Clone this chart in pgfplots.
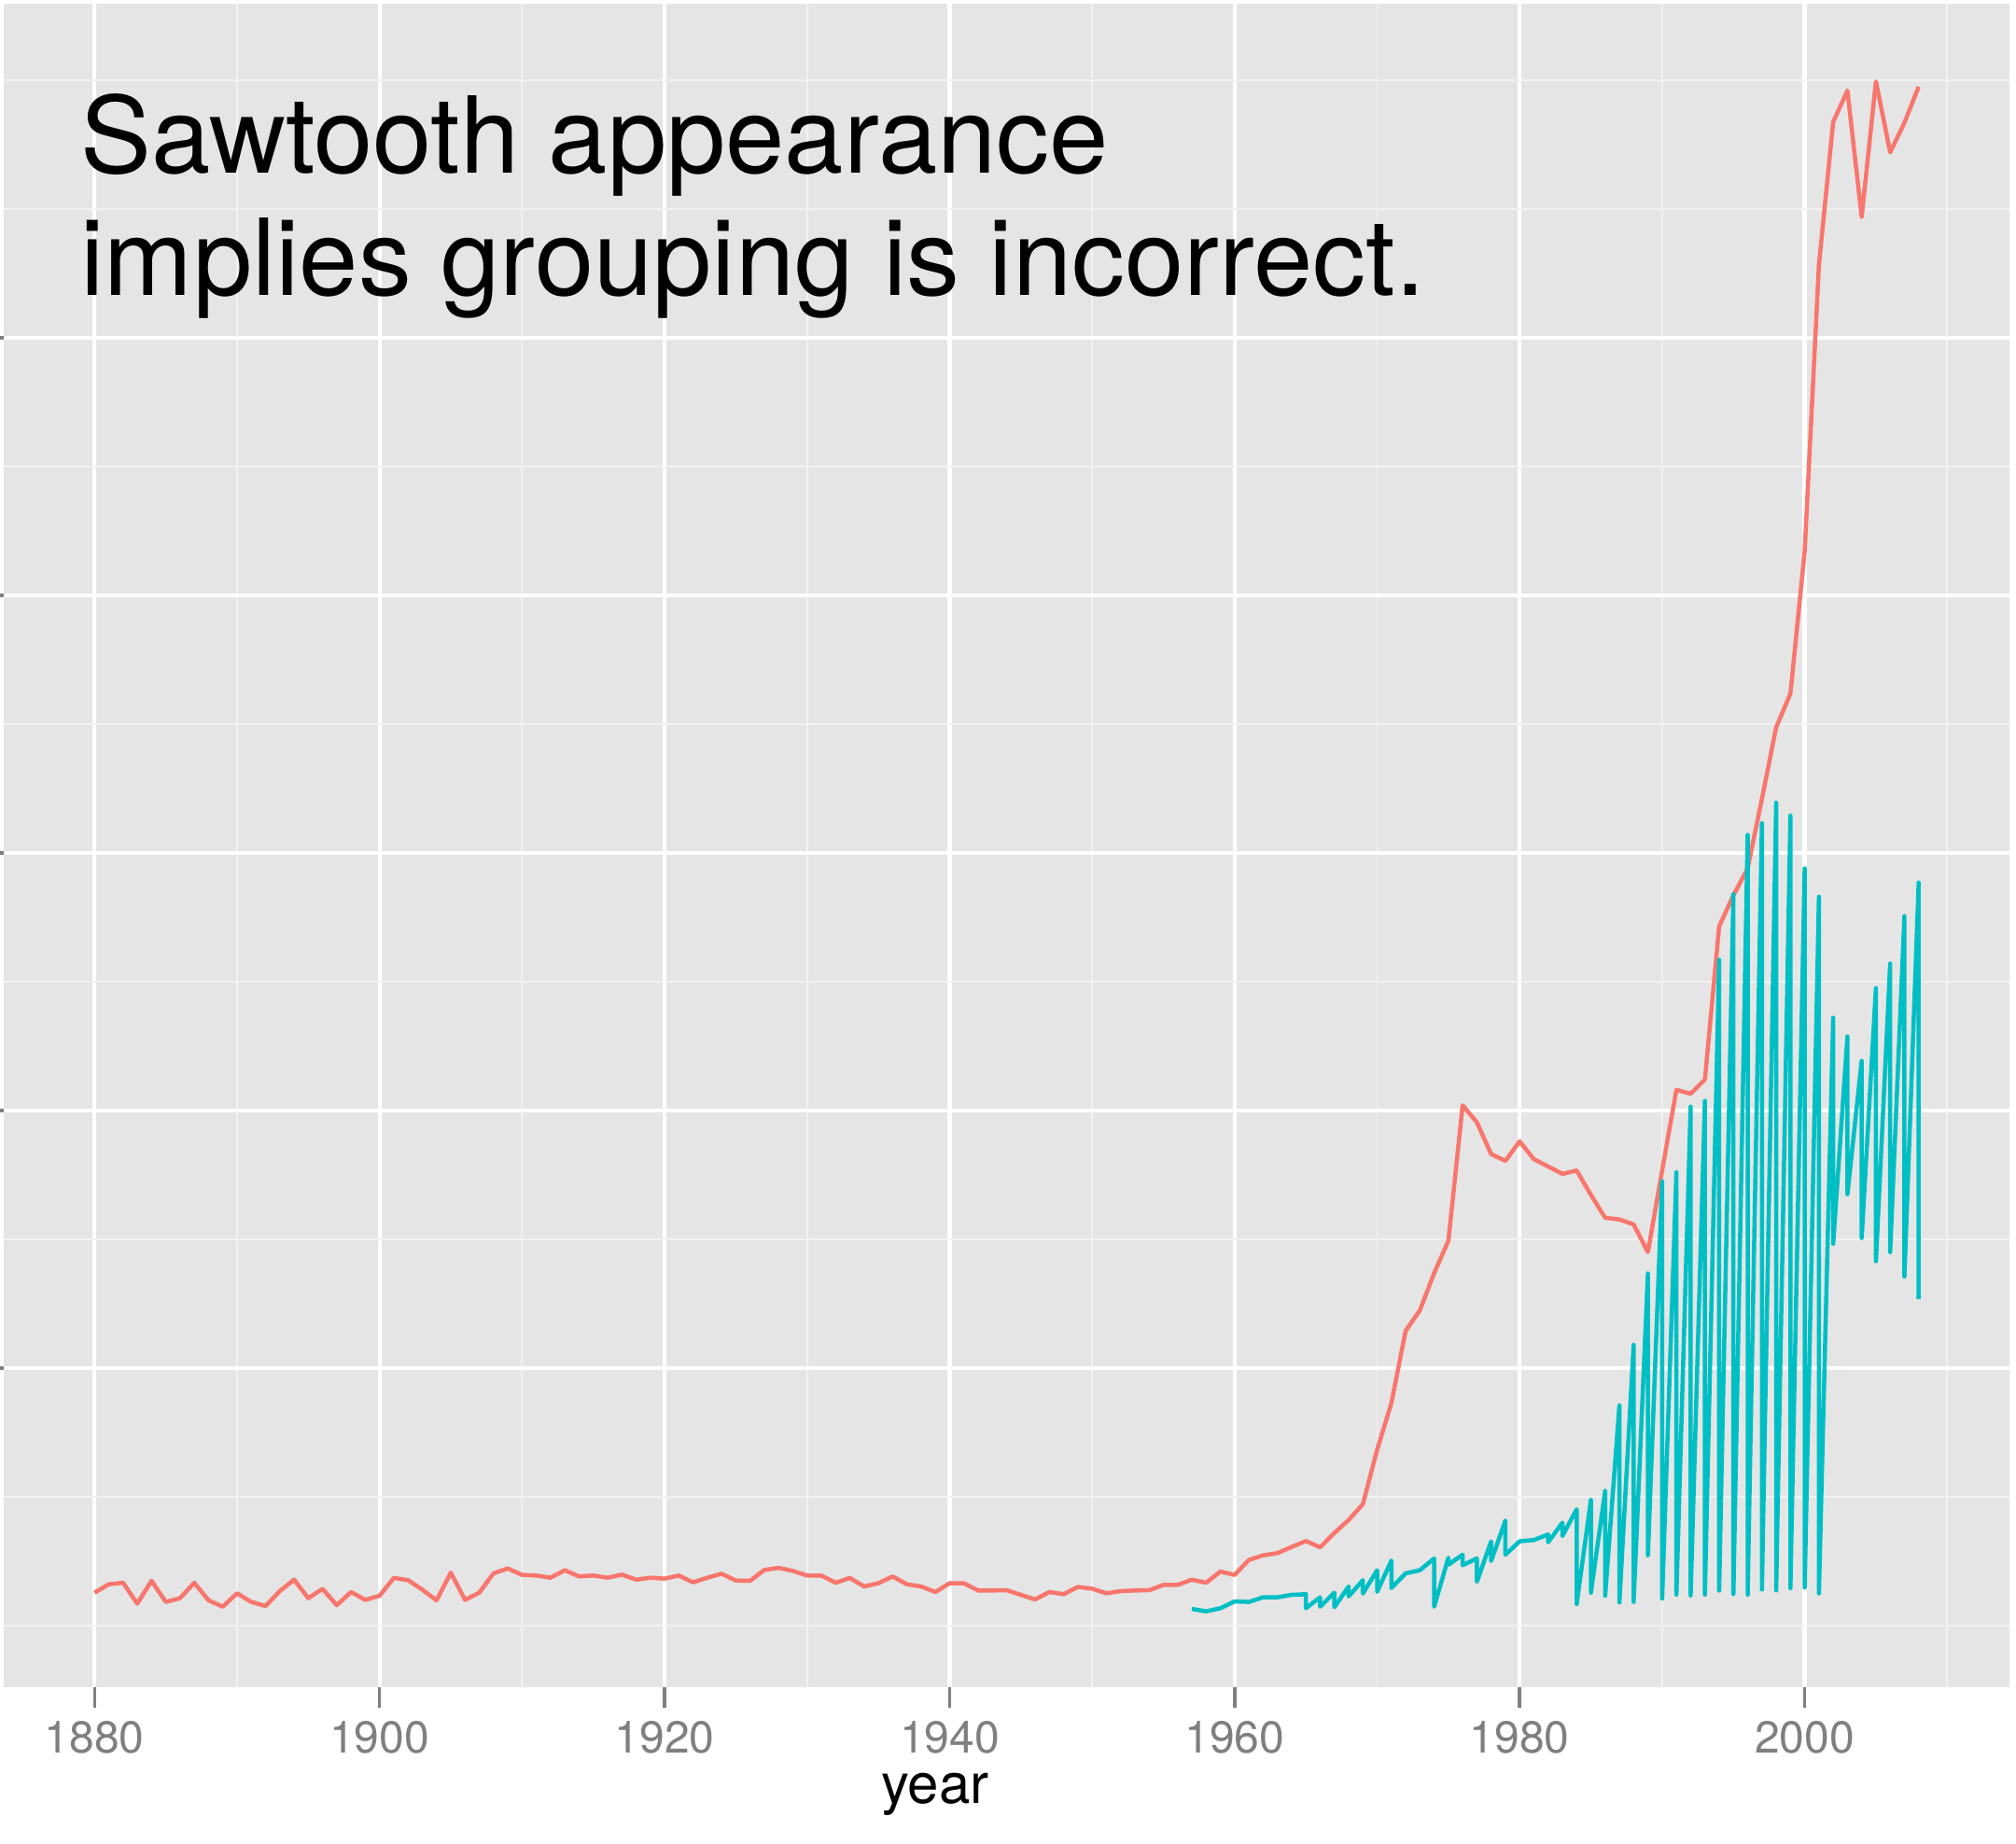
\documentclass[border=0pt]{standalone}
\usepackage{fontspec}
\setmainfont{TeX Gyre Heros}
\usepackage{pgfplots}
\pgfplotsset{compat=1.18}
\definecolor{ggred}{HTML}{F8766D}
\definecolor{ggteal}{HTML}{00BFC4}
\definecolor{ggbg}{HTML}{E5E5E5}
\definecolor{ggminor}{HTML}{F2F2F2}
\definecolor{ggtick}{HTML}{7F7F7F}

\pgfplotstableread{
year v
1880 0.256
1881 0.321
1882 0.333
1883 0.171
1884 0.348
1885 0.184
1886 0.213
1887 0.333
1888 0.196
1889 0.147
1890 0.251
1891 0.184
1892 0.152
1893 0.268
1894 0.357
1895 0.213
1896 0.285
1897 0.159
1898 0.261
1899 0.200
1900 0.232
1901 0.370
1902 0.353
1903 0.280
1904 0.196
1905 0.411
1906 0.200
1907 0.256
1908 0.406
1909 0.444
1910 0.394
1911 0.389
1912 0.372
1913 0.430
1914 0.382
1915 0.389
1916 0.372
1917 0.396
1918 0.357
1919 0.372
1920 0.365
1921 0.389
1922 0.336
1923 0.372
1924 0.403
1925 0.350
1926 0.348
1927 0.432
1928 0.449
1929 0.425
1930 0.389
1931 0.389
1932 0.333
1933 0.370
1934 0.304
1935 0.329
1936 0.382
1937 0.321
1938 0.304
1939 0.261
1940 0.329
1941 0.329
1942 0.273
1943 0.273
1944 0.275
1945 0.239
1946 0.203
1947 0.261
1948 0.244
1949 0.300
1950 0.287
1951 0.251
1952 0.268
1953 0.273
1954 0.275
1955 0.316
1956 0.316
1957 0.357
1958 0.333
1959 0.420
1960 0.394
1961 0.510
1962 0.546
1963 0.563
1964 0.611
1965 0.657
1966 0.608
1967 0.720
1968 0.820
1969 0.944
1970 1.365
1971 1.728
1972 2.289
1973 2.448
1974 2.737
1975 2.988
1976 4.040
1977 3.908
1978 3.661
1979 3.609
1980 3.760
1981 3.622
1982 3.565
1983 3.508
1984 3.534
1985 3.345
1986 3.167
1987 3.154
1988 3.115
1989 2.900
1990 3.535
1991 4.160
1992 4.130
1993 4.240
1994 5.430
1995 5.670
1996 5.880
1997 6.420
1998 6.975
1999 7.237
2000 8.340
2001 10.565
2002 11.675
2003 11.920
2004 10.940
2005 11.990
2006 11.440
2007 11.670
2008 11.950
}\redtable

\pgfplotstableread{
year v
1957 0.130
1958 0.111
1959 0.135
1960 0.188
1961 0.184
1962 0.220
1963 0.220
1964 0.239
1965 0.244
1965 0.135
1966 0.220
1966 0.147
1967 0.256
1967 0.143
1968 0.304
1968 0.227
1969 0.353
1969 0.249
1970 0.430
1970 0.263
1971 0.505
1971 0.292
1972 0.406
1973 0.430
1974 0.522
1974 0.147
1975 0.527
1975 0.473
1976 0.551
1976 0.469
1977 0.522
1977 0.341
1978 0.655
1978 0.502
1979 0.816
1979 0.551
1980 0.655
1981 0.665
1982 0.708
1982 0.647
1983 0.800
1983 0.696
1984 0.903
1984 0.167
1985 0.976
1985 0.256
1986 1.046
1986 0.232
1987 1.709
1987 0.180
1988 2.180
1988 0.184
1989 2.735
1989 0.546
1990 3.450
1990 0.210
1991 3.520
1991 0.240
1992 4.030
1992 0.234
1993 4.075
1993 0.240
1994 5.170
1994 0.272
1995 5.680
1995 0.245
1996 6.140
1996 0.240
1997 6.230
1997 0.280
1998 6.390
1998 0.273
1999 6.290
1999 0.291
2000 5.880
2000 0.296
2001 5.660
2001 0.250
2002 4.720
2002 2.966
2003 4.575
2003 3.350
2004 4.385
2004 3.010
2005 4.950
2005 2.830
2006 5.140
2006 2.900
2007 5.510
2007 2.710
2008 5.770
2008 2.535
}\tealtable

\begin{document}
\begin{tikzpicture}
\begin{axis}[
  at={(0.8pt,33.6pt)}, anchor=south west,
  scale only axis, width=429.8pt, height=360.8pt,
  xmin=1873.63, xmax=2014.37, ymin=-0.478, ymax=12.594,
  axis background/.style={fill=ggbg},
  axis line style={draw=none},
  xtick={1880,1900,1920,1940,1960,1980,2000},
  xticklabels={1880,1900,1920,1940,1960,1980,2000},
  minor xtick={1890,1910,1930,1950,1970,1990,2010},
  ytick={2,4,6,8,10},
  yticklabels={},
  minor ytick={0,1,3,5,7,9,11,12},
  grid=both,
  major grid style={white, line width=0.85pt},
  minor grid style={ggminor, line width=0.35pt},
  tick align=outside,
  xtick pos=left, ytick pos=left,
  major tick length=4.4pt, minor tick length=0pt,
  tick style={ggtick, line width=0.7pt},
  /pgf/number format/assume math mode=true,
  xticklabel style={font=\fontsize{9.6}{11}\selectfont, text=ggtick, inner sep=0pt, anchor=north, yshift=-2.8pt},
]
\addplot[ggred, line width=0.9pt, line join=round] table[x=year, y=v] {\redtable};
\addplot[ggteal, line width=0.9pt, line join=round] table[x=year, y=v] {\tealtable};
\end{axis}
\node[anchor=base west, inner sep=0pt, font=\fontsize{22.75}{26}\selectfont] at (17.1pt,358pt) {Sawtooth appearance};
\node[anchor=base west, inner sep=0pt, font=\fontsize{22.75}{26}\selectfont] at (17.1pt,331.8pt) {implies grouping is incorrect.};
\node[anchor=base, inner sep=0pt, font=\fontsize{12}{14}\selectfont] at (200.4pt,8.6pt) {year};
\pgfresetboundingbox
\useasboundingbox (0,0) rectangle (432pt,395.2pt);
\end{tikzpicture}
\end{document}
